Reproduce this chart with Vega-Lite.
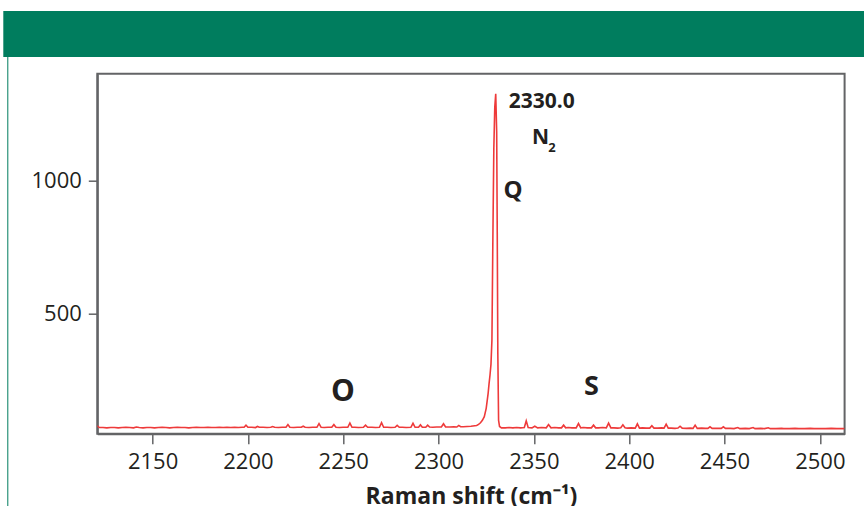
{
  "$schema": "https://vega.github.io/schema/vega-lite/v6.json",
  "padding": {"left": 3.3, "top": 11, "right": 0, "bottom": 0},
  "background": "white",
  "config": {"view": {"stroke": null}, "font": "Open Sans"},
  "spacing": 0,
  "vconcat": [
    {
      "width": 860.7,
      "height": 46,
      "view": {"fill": "#007d5e", "stroke": null},
      "data": {"values": []},
      "mark": {"type": "text"},
      "encoding": {"text": {"field": "t"}}
    },
    {
      "spacing": 0,
      "hconcat": [
        {
          "width": 3.5,
          "height": 452,
          "data": {"values": []},
          "mark": {"type": "text"},
          "encoding": {"text": {"field": "t"}}
        },
        {
          "width": 1,
          "height": 452,
          "view": {"fill": "#007d5e", "stroke": null},
          "data": {"values": []},
          "mark": {"type": "text"},
          "encoding": {"text": {"field": "t"}}
        },
        {
          "width": 20.4,
          "height": 452,
          "data": {"values": []},
          "mark": {"type": "text"},
          "encoding": {"text": {"field": "t"}}
        },
        {
          "spacing": 14.7,
          "vconcat": [
            {
              "width": 1,
              "height": 1,
              "data": {"values": []},
              "mark": {"type": "text"},
              "encoding": {"text": {"field": "t"}}
            },
            {
              "width": 747.3,
              "height": 360,
              "view": {"stroke": "#636466", "strokeWidth": 2},
              "encoding": {
                "x": {
                  "field": "shift", "type": "quantitative",
                  "scale": {"domain": [2121, 2513], "nice": false, "zero": false},
                  "axis": {
                    "values": [2150, 2200, 2250, 2300, 2350, 2400, 2450, 2500],
                    "title": "Raman shift (cm⁻¹)",
                    "titleFont": "Open Sans", "titleFontSize": 23, "titleFontWeight": "bold", "titleColor": "#231f20",
                    "titlePadding": 13,
                    "labelFont": "Open Sans", "labelFontSize": 22, "labelColor": "#231f20", "labelPadding": 8,
                    "tickSize": 10, "tickColor": "#636466", "tickWidth": 1.5,
                    "domain": true, "domainColor": "#636466", "domainWidth": 2,
                    "grid": false, "format": "d"
                  }
                },
                "y": {
                  "field": "intensity", "type": "quantitative",
                  "scale": {"domain": [50, 1400], "nice": false, "zero": false},
                  "axis": {
                    "values": [500, 1000],
                    "title": null,
                    "labelFont": "Open Sans", "labelFontSize": 22, "labelColor": "#231f20", "labelPadding": 7,
                    "tickSize": 9, "tickColor": "#636466", "tickWidth": 1.5,
                    "domain": true, "domainColor": "#636466", "domainWidth": 2,
                    "grid": false, "format": "d"
                  }
                }
              },
              "layer": [
                {
                  "data": {"values": [
                    {"shift": 2121, "intensity": 80}, {"shift": 2122, "intensity": 73}, {"shift": 2124, "intensity": 73}, {"shift": 2126, "intensity": 72},
                    {"shift": 2128, "intensity": 73}, {"shift": 2130, "intensity": 73}, {"shift": 2132, "intensity": 72}, {"shift": 2134, "intensity": 73},
                    {"shift": 2136, "intensity": 74}, {"shift": 2138, "intensity": 73}, {"shift": 2140, "intensity": 72}, {"shift": 2141.5, "intensity": 75},
                    {"shift": 2143, "intensity": 73}, {"shift": 2145, "intensity": 72}, {"shift": 2147, "intensity": 73}, {"shift": 2149, "intensity": 73},
                    {"shift": 2151, "intensity": 72}, {"shift": 2153, "intensity": 73}, {"shift": 2155, "intensity": 74}, {"shift": 2157, "intensity": 73},
                    {"shift": 2159, "intensity": 72}, {"shift": 2161, "intensity": 73}, {"shift": 2163, "intensity": 74}, {"shift": 2165, "intensity": 73},
                    {"shift": 2167, "intensity": 73}, {"shift": 2169, "intensity": 72}, {"shift": 2171, "intensity": 73}, {"shift": 2173, "intensity": 74},
                    {"shift": 2175, "intensity": 73}, {"shift": 2177, "intensity": 73}, {"shift": 2179, "intensity": 74}, {"shift": 2181, "intensity": 73},
                    {"shift": 2183, "intensity": 73}, {"shift": 2185, "intensity": 74}, {"shift": 2187, "intensity": 73}, {"shift": 2189, "intensity": 74},
                    {"shift": 2191, "intensity": 73}, {"shift": 2193, "intensity": 74}, {"shift": 2195, "intensity": 73}, {"shift": 2197, "intensity": 74},
                    {"shift": 2198, "intensity": 74}, {"shift": 2199, "intensity": 82}, {"shift": 2200, "intensity": 74}, {"shift": 2202, "intensity": 74},
                    {"shift": 2204, "intensity": 73}, {"shift": 2205, "intensity": 77}, {"shift": 2206, "intensity": 74}, {"shift": 2208, "intensity": 74},
                    {"shift": 2210, "intensity": 73}, {"shift": 2212, "intensity": 74}, {"shift": 2213, "intensity": 77}, {"shift": 2214, "intensity": 74},
                    {"shift": 2216, "intensity": 73}, {"shift": 2218, "intensity": 74}, {"shift": 2220, "intensity": 74}, {"shift": 2221, "intensity": 84},
                    {"shift": 2222, "intensity": 74}, {"shift": 2224, "intensity": 73}, {"shift": 2226, "intensity": 74}, {"shift": 2228, "intensity": 74},
                    {"shift": 2229, "intensity": 78}, {"shift": 2230, "intensity": 74}, {"shift": 2232, "intensity": 73}, {"shift": 2234, "intensity": 74},
                    {"shift": 2236.2, "intensity": 74}, {"shift": 2237.3, "intensity": 88}, {"shift": 2238.4, "intensity": 74}, {"shift": 2240, "intensity": 73},
                    {"shift": 2242, "intensity": 74}, {"shift": 2244, "intensity": 74}, {"shift": 2245.1, "intensity": 84}, {"shift": 2246.2, "intensity": 74},
                    {"shift": 2248, "intensity": 73}, {"shift": 2250, "intensity": 74}, {"shift": 2252.4, "intensity": 74}, {"shift": 2253.5, "intensity": 90},
                    {"shift": 2254.6, "intensity": 74}, {"shift": 2256, "intensity": 74}, {"shift": 2258, "intensity": 73}, {"shift": 2260.6, "intensity": 74},
                    {"shift": 2261.7, "intensity": 82}, {"shift": 2262.8, "intensity": 74}, {"shift": 2265, "intensity": 74}, {"shift": 2267, "intensity": 73},
                    {"shift": 2269, "intensity": 74}, {"shift": 2270.1, "intensity": 91}, {"shift": 2271.2, "intensity": 74}, {"shift": 2273, "intensity": 74},
                    {"shift": 2275, "intensity": 73}, {"shift": 2277.2, "intensity": 74}, {"shift": 2278.3, "intensity": 81}, {"shift": 2279.4, "intensity": 74},
                    {"shift": 2281, "intensity": 74}, {"shift": 2283, "intensity": 73}, {"shift": 2285.5, "intensity": 74}, {"shift": 2286.6, "intensity": 89},
                    {"shift": 2287.7, "intensity": 74}, {"shift": 2289.5, "intensity": 74}, {"shift": 2290.5, "intensity": 83}, {"shift": 2291.5, "intensity": 74},
                    {"shift": 2293.3, "intensity": 74}, {"shift": 2294.3, "intensity": 82}, {"shift": 2295.3, "intensity": 75}, {"shift": 2297, "intensity": 74},
                    {"shift": 2299, "intensity": 75}, {"shift": 2301.5, "intensity": 75}, {"shift": 2302.6, "intensity": 87}, {"shift": 2303.7, "intensity": 75},
                    {"shift": 2306, "intensity": 75}, {"shift": 2308, "intensity": 76}, {"shift": 2309.6, "intensity": 75}, {"shift": 2310.6, "intensity": 81},
                    {"shift": 2311.6, "intensity": 76}, {"shift": 2313, "intensity": 76}, {"shift": 2315, "intensity": 77}, {"shift": 2317, "intensity": 78},
                    {"shift": 2319, "intensity": 80}, {"shift": 2320, "intensity": 81}, {"shift": 2321, "intensity": 85}, {"shift": 2322, "intensity": 91},
                    {"shift": 2323, "intensity": 100}, {"shift": 2324, "intensity": 114}, {"shift": 2325, "intensity": 145}, {"shift": 2326, "intensity": 200},
                    {"shift": 2326.5, "intensity": 238}, {"shift": 2327, "intensity": 270}, {"shift": 2327.5, "intensity": 310}, {"shift": 2328, "intensity": 400},
                    {"shift": 2328.5, "intensity": 780}, {"shift": 2329, "intensity": 1120}, {"shift": 2329.5, "intensity": 1275}, {"shift": 2330, "intensity": 1325},
                    {"shift": 2330.5, "intensity": 1180}, {"shift": 2330.8, "intensity": 800}, {"shift": 2331.1, "intensity": 350}, {"shift": 2331.5, "intensity": 100},
                    {"shift": 2332, "intensity": 77}, {"shift": 2333, "intensity": 72}, {"shift": 2335, "intensity": 72}, {"shift": 2337, "intensity": 73},
                    {"shift": 2339, "intensity": 72}, {"shift": 2341, "intensity": 73}, {"shift": 2343, "intensity": 72}, {"shift": 2345, "intensity": 73},
                    {"shift": 2346, "intensity": 98}, {"shift": 2347, "intensity": 73}, {"shift": 2349, "intensity": 72}, {"shift": 2350.5, "intensity": 78},
                    {"shift": 2352, "intensity": 72}, {"shift": 2354, "intensity": 73}, {"shift": 2356.5, "intensity": 72}, {"shift": 2357.7, "intensity": 84},
                    {"shift": 2359, "intensity": 72}, {"shift": 2361, "intensity": 73}, {"shift": 2363, "intensity": 72}, {"shift": 2364.5, "intensity": 72},
                    {"shift": 2365.6, "intensity": 82}, {"shift": 2366.7, "intensity": 72}, {"shift": 2368, "intensity": 73}, {"shift": 2370, "intensity": 72},
                    {"shift": 2372.2, "intensity": 72}, {"shift": 2373.4, "intensity": 88}, {"shift": 2374.6, "intensity": 72}, {"shift": 2376, "intensity": 73},
                    {"shift": 2378, "intensity": 72}, {"shift": 2380.2, "intensity": 72}, {"shift": 2381.3, "intensity": 82}, {"shift": 2382.4, "intensity": 72},
                    {"shift": 2384, "intensity": 72}, {"shift": 2386, "intensity": 73}, {"shift": 2388, "intensity": 72}, {"shift": 2389.2, "intensity": 90},
                    {"shift": 2390.4, "intensity": 72}, {"shift": 2392, "intensity": 72}, {"shift": 2394, "intensity": 71}, {"shift": 2395.6, "intensity": 72},
                    {"shift": 2396.7, "intensity": 83}, {"shift": 2397.8, "intensity": 72}, {"shift": 2399, "intensity": 71}, {"shift": 2401, "intensity": 72},
                    {"shift": 2403.2, "intensity": 71}, {"shift": 2404.3, "intensity": 87}, {"shift": 2405.4, "intensity": 71}, {"shift": 2407, "intensity": 72},
                    {"shift": 2409, "intensity": 71}, {"shift": 2410.8, "intensity": 71}, {"shift": 2411.9, "intensity": 80}, {"shift": 2413, "intensity": 71},
                    {"shift": 2415, "intensity": 71}, {"shift": 2417, "intensity": 72}, {"shift": 2418.3, "intensity": 71}, {"shift": 2419.4, "intensity": 86},
                    {"shift": 2420.5, "intensity": 71}, {"shift": 2422, "intensity": 71}, {"shift": 2424, "intensity": 70}, {"shift": 2425.6, "intensity": 71},
                    {"shift": 2426.7, "intensity": 78}, {"shift": 2427.8, "intensity": 71}, {"shift": 2430, "intensity": 70}, {"shift": 2432, "intensity": 71},
                    {"shift": 2433.5, "intensity": 70}, {"shift": 2434.6, "intensity": 82}, {"shift": 2435.7, "intensity": 70}, {"shift": 2438, "intensity": 71},
                    {"shift": 2440, "intensity": 70}, {"shift": 2441.3, "intensity": 70}, {"shift": 2442.4, "intensity": 76}, {"shift": 2443.5, "intensity": 70},
                    {"shift": 2446, "intensity": 70}, {"shift": 2448.3, "intensity": 70}, {"shift": 2449.4, "intensity": 76}, {"shift": 2450.5, "intensity": 70},
                    {"shift": 2453, "intensity": 70}, {"shift": 2455, "intensity": 69}, {"shift": 2457, "intensity": 73}, {"shift": 2458, "intensity": 69},
                    {"shift": 2461, "intensity": 70}, {"shift": 2463, "intensity": 69}, {"shift": 2465, "intensity": 73}, {"shift": 2466, "intensity": 69},
                    {"shift": 2469, "intensity": 70}, {"shift": 2471, "intensity": 69}, {"shift": 2473, "intensity": 72}, {"shift": 2474, "intensity": 69},
                    {"shift": 2477, "intensity": 69}, {"shift": 2480, "intensity": 70}, {"shift": 2481, "intensity": 69}, {"shift": 2484, "intensity": 69},
                    {"shift": 2487, "intensity": 70}, {"shift": 2489, "intensity": 69}, {"shift": 2492, "intensity": 69}, {"shift": 2495, "intensity": 70},
                    {"shift": 2497, "intensity": 69}, {"shift": 2500, "intensity": 69}, {"shift": 2503, "intensity": 69}, {"shift": 2506, "intensity": 70},
                    {"shift": 2509, "intensity": 69}, {"shift": 2513, "intensity": 69}
                  ]},
                  "mark": {"type": "line", "color": "#ee3a3a", "strokeWidth": 1.6, "clip": true}
                },
                {
                  "data": {"values": [{"shift": 2336.8, "intensity": 1270, "label": "2330.0"}, {"shift": 2349.0, "intensity": 1135, "label": "N"}]},
                  "mark": {"type": "text", "align": "left", "baseline": "alphabetic", "font": "Open Sans", "fontWeight": "bold", "fontSize": 21, "color": "#231f20"},
                  "encoding": {"text": {"field": "label"}}
                },
                {
                  "data": {"values": [{"shift": 2357.6, "intensity": 1108, "label": "2"}]},
                  "mark": {"type": "text", "align": "left", "baseline": "alphabetic", "font": "Open Sans", "fontWeight": "bold", "fontSize": 13, "color": "#231f20"},
                  "encoding": {"text": {"field": "label"}}
                },
                {
                  "data": {"values": [{"shift": 2334.1, "intensity": 935, "label": "Q"}]},
                  "mark": {"type": "text", "align": "left", "baseline": "alphabetic", "font": "Open Sans", "fontWeight": "bold", "fontSize": 24, "color": "#231f20"},
                  "encoding": {"text": {"field": "label"}}
                },
                {
                  "data": {"values": [{"shift": 2249.8, "intensity": 173, "label": "O"}]},
                  "mark": {"type": "text", "align": "center", "baseline": "alphabetic", "font": "Open Sans", "fontWeight": "bold", "fontSize": 30, "color": "#231f20"},
                  "encoding": {"text": {"field": "label"}}
                },
                {
                  "data": {"values": [{"shift": 2380.2, "intensity": 194, "label": "S"}]},
                  "mark": {"type": "text", "align": "center", "baseline": "alphabetic", "font": "Open Sans", "fontWeight": "bold", "fontSize": 27, "color": "#231f20"},
                  "encoding": {"text": {"field": "label"}}
                }
              ]
            }
          ]
        }
      ]
    }
  ]
}
